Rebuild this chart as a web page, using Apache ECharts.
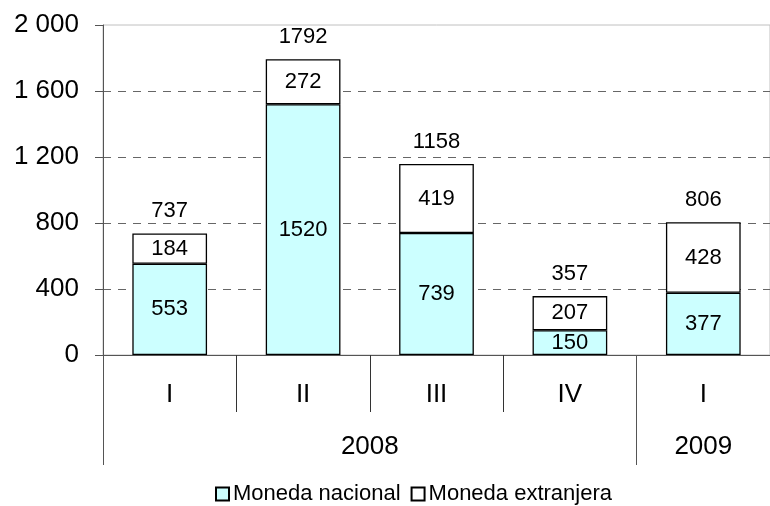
<!DOCTYPE html>
<html>
<head>
<meta charset="utf-8">
<script src="https://cdn.jsdelivr.net/npm/echarts@6/dist/echarts.min.js"></script>
<style>
  html, body { margin: 0; padding: 0; background: #fff; }
  #root { width: 770px; height: 506px; }
</style>
</head>
<body>
<div id="root"></div>
<script>
  // quarters and years
  var quarters = ['I', 'II', 'III', 'IV', 'I']
  var years = ['2008', '2009']
  // values
  var nacional = [553, 1520, 739, 150, 377]
  var extranjera = [184, 272, 419, 207, 428]
  var totals = [737, 1792, 1158, 357, 806]
  var yTicks = [0, 400, 800, 1200, 1600, 2000]

  var font = 'Liberation Sans, Arial, sans-serif'
  var chart = echarts.init(document.getElementById('root'))

  var fmtThousands = function (v) {
    return String(v).replace(/\B(?=(\d{3})+(?!\d))/g, ' ')
  }

  var option = {
    animation: false,
    backgroundColor: '#fff',
    textStyle: { fontFamily: font },
    grid: {
      left: 103, right: -8, top: 25, bottom: 151,
      show: true, borderColor: '#c0c0c0', borderWidth: 1
    },
    legend: {
      data: ['Moneda nacional', 'Moneda extranjera'],
      left: 210,
      top: 478,
      icon: 'rect',
      itemWidth: 13,
      itemHeight: 13,
      itemGap: 10,
      textStyle: { fontFamily: font, fontSize: 22, color: '#000', padding: [0, 0, 0, -1] }
    },
    xAxis: [{
      type: 'category',
      data: quarters,
      axisLine: { lineStyle: { color: '#555', width: 1 } },
      axisTick: { show: true, interval: 0, length: 57, lineStyle: { color: '#333' } },
      axisLabel: { interval: 0, margin: 27, fontSize: 26, color: '#000', fontFamily: font }
    }, {
      type: 'value',
      position: 'bottom',
      min: 0,
      max: 5,
      axisLine: { show: false },
      splitLine: { show: false },
      axisTick: { show: true, customValues: [0, 4], length: 110, lineStyle: { color: '#555' } },
      axisLabel: {
        customValues: [2, 4.5],
        margin: 79,
        fontSize: 26,
        color: '#000',
        fontFamily: font,
        formatter: function (v) { return v < 4 ? years[0] : years[1] }
      }
    }],
    yAxis: {
      type: 'value',
      min: yTicks[0],
      max: yTicks[yTicks.length - 1],
      interval: 400,
      axisLine: { show: true, lineStyle: { color: '#555' } },
      axisTick: { show: true, length: 8, lineStyle: { color: '#555' } },
      axisLabel: {
        margin: 24, fontSize: 26, color: '#000', fontFamily: font,
        formatter: fmtThousands
      },
      splitLine: {
        show: true,
        lineStyle: {
          color: ['#666', '#666', '#666', '#666', '#666', 'rgba(0,0,0,0)'],
          type: [8, 7],
          width: 1
        }
      }
    },
    series: [{
      name: 'Moneda nacional',
      type: 'bar',
      stack: 'total',
      barWidth: '56%',
      data: nacional,
      itemStyle: { color: '#ccffff', borderColor: '#000', borderWidth: 1.3 },
      label: { show: true, position: 'inside', fontSize: 22, color: '#000', fontFamily: font }
    }, {
      name: 'Moneda extranjera',
      type: 'bar',
      stack: 'total',
      data: extranjera,
      itemStyle: { color: '#ffffff', borderColor: '#000', borderWidth: 1.3 },
      label: { show: true, position: 'inside', fontSize: 22, color: '#000', fontFamily: font }
    }, {
      name: 'Total',
      type: 'bar',
      stack: 'total',
      data: totals.map(function () { return 0 }),
      itemStyle: { color: 'rgba(0,0,0,0)' },
      label: {
        show: true, position: 'top', distance: 11, fontSize: 22, color: '#000', fontFamily: font,
        formatter: function (p) { return totals[p.dataIndex] }
      }
    }]
  }

  chart.setOption(option)
</script>
</body>
</html>
